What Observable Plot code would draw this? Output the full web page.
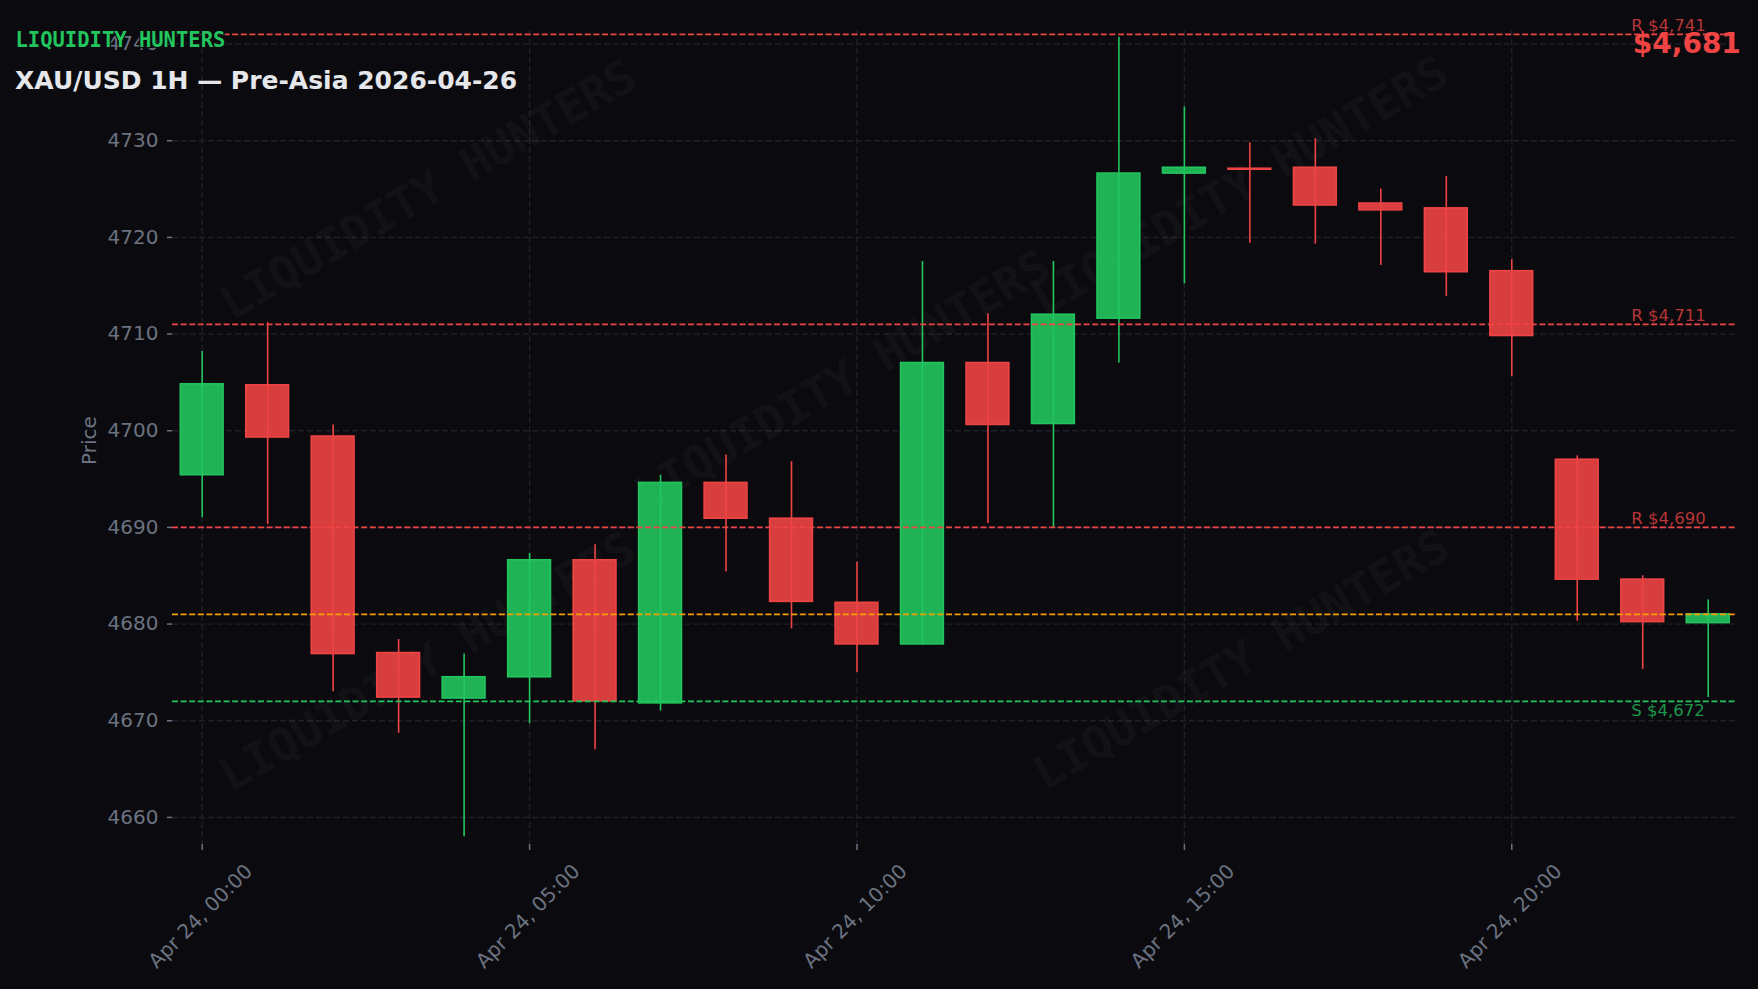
<!DOCTYPE html>
<html>
<head>
<meta charset="utf-8">
<script src="https://cdn.jsdelivr.net/npm/d3@7"></script>
<script src="https://cdn.jsdelivr.net/npm/@observablehq/plot@0.6"></script>
<style>
  html, body { margin: 0; padding: 0; background: #0b0b0f; }
  #chart { width: 1758px; height: 989px; }
</style>
</head>
<body>
<div id="chart"></div>
<script>
// ---- Text ----
const brand = "LIQUIDITY HUNTERS";
const title = "XAU/USD 1H — Pre-Asia 2026-04-26";
const yLabel = "Price";

// ---- Candles (1H, UTC) ----
const times = [
  "2026-04-24T00:00Z","2026-04-24T01:00Z","2026-04-24T02:00Z","2026-04-24T03:00Z",
  "2026-04-24T04:00Z","2026-04-24T05:00Z","2026-04-24T06:00Z","2026-04-24T07:00Z",
  "2026-04-24T08:00Z","2026-04-24T09:00Z","2026-04-24T10:00Z","2026-04-24T11:00Z",
  "2026-04-24T12:00Z","2026-04-24T13:00Z","2026-04-24T14:00Z","2026-04-24T15:00Z",
  "2026-04-24T16:00Z","2026-04-24T17:00Z","2026-04-24T18:00Z","2026-04-24T19:00Z",
  "2026-04-24T20:00Z","2026-04-24T21:00Z","2026-04-24T22:00Z","2026-04-24T23:00Z"
];
const opens  = [4695.4, 4704.7, 4699.4, 4677.0, 4672.3, 4674.5, 4686.6, 4671.8, 4694.6, 4690.9, 4682.2, 4677.9,
                4707.0, 4700.7, 4711.6, 4726.6, 4727.1, 4727.2, 4723.5, 4723.0, 4716.5, 4697.0, 4684.6, 4680.1];
const highs  = [4708.2, 4711.2, 4700.6, 4678.4, 4676.9, 4687.3, 4688.2, 4695.4, 4697.5, 4696.8, 4686.4, 4717.5,
                4712.1, 4717.5, 4740.7, 4733.5, 4729.8, 4730.2, 4725.0, 4726.3, 4717.7, 4697.4, 4685.0, 4682.5];
const lows   = [4691.0, 4690.3, 4673.0, 4668.7, 4658.0, 4669.7, 4667.0, 4671.0, 4685.4, 4679.5, 4675.0, 4677.8,
                4690.4, 4689.9, 4707.0, 4715.2, 4719.4, 4719.3, 4717.1, 4713.9, 4705.6, 4680.3, 4675.3, 4672.4];
const closes = [4704.8, 4699.3, 4676.9, 4672.4, 4674.5, 4686.6, 4672.0, 4694.6, 4690.9, 4682.3, 4677.9, 4707.0,
                4700.6, 4712.0, 4726.6, 4727.2, 4727.0, 4723.3, 4722.8, 4716.4, 4709.8, 4684.6, 4680.2, 4681.0];

// ---- Levels ----
const resistance = [4741, 4711, 4690];
const support = [4672];

// ---- Ticks ----
const yTicks = [4660, 4670, 4680, 4690, 4700, 4710, 4720, 4730, 4740];
const xTickTimes = ["2026-04-24T00:00Z","2026-04-24T05:00Z","2026-04-24T10:00Z","2026-04-24T15:00Z","2026-04-24T20:00Z"];

// ---- Build ----
const GREEN = "#22c55e", RED = "#ef4444", ORANGE = "#f59e0b", BG = "#0b0b0f", GRAY = "#6b7280", GRID = "#1f2029";
const MIN = 60000;
const candles = times.map((s, i) => ({t: new Date(s), o: opens[i], h: highs[i], l: lows[i], c: closes[i]}));
const xTicks = xTickTimes.map(s => new Date(s));
const last = closes[closes.length - 1];
const fmtTime = d3.utcFormat("%b %d, %H:%M");
const fmtNum = d3.format(",.0f");
const halfW = 19.6 * MIN;
const up = d => d.c >= d.o;
const down = d => d.c < d.o;

const watermark = (dx, dy) => Plot.text([brand], {
  text: d => d, frameAnchor: "top-left", dx, dy, rotate: -30,
  textAnchor: "middle", lineAnchor: "middle",
  fontFamily: "DejaVu Sans Mono", fontWeight: "bold", fontSize: 46,
  fill: "#ffffff", fillOpacity: 0.05
});

const chart = Plot.plot({
  width: 1758, height: 989,
  marginLeft: 172, marginRight: 23, marginTop: 30, marginBottom: 145,
  style: {background: BG, fontFamily: "DejaVu Sans", color: GRAY},
  x: {type: "utc", domain: [new Date(+candles[0].t - 27.2 * MIN), new Date(+candles[candles.length - 1].t + 25 * MIN)]},
  y: {domain: [4657.2, 4741.4]},
  marks: [
    Plot.gridY(yTicks, {stroke: GRID, strokeOpacity: 1, strokeWidth: 1.4, strokeDasharray: "6,3"}),
    Plot.gridX(xTicks, {stroke: GRID, strokeOpacity: 1, strokeWidth: 1.4, strokeDasharray: "6,3"}),
    watermark(256, 160),
    watermark(1068, 156),
    watermark(670, 350),
    watermark(255, 632),
    watermark(1069, 630),
    Plot.axisY({ticks: yTicks, tickFormat: d3.format("d"), tickSize: 5, tickPadding: 9, fontSize: 20, color: GRAY, label: null, strokeWidth: 1.5}),
    Plot.axisX({ticks: xTicks, tickSize: 6, tickFormat: () => "", color: GRAY, label: null, strokeWidth: 1.5}),
    // wicks
    Plot.ruleX(candles, {filter: up, x: "t", y1: "l", y2: "h", stroke: GREEN, strokeWidth: 1.6}),
    Plot.ruleX(candles, {filter: down, x: "t", y1: "l", y2: "h", stroke: RED, strokeWidth: 1.6}),
    // bodies
    Plot.rect(candles, {filter: up, x1: d => new Date(+d.t - halfW), x2: d => new Date(+d.t + halfW), y1: "o", y2: "c",
      fill: GREEN, fillOpacity: 0.9, stroke: GREEN, strokeWidth: 1.6}),
    Plot.rect(candles, {filter: down, x1: d => new Date(+d.t - halfW), x2: d => new Date(+d.t + halfW), y1: "o", y2: "c",
      fill: RED, fillOpacity: 0.9, stroke: RED, strokeWidth: 1.6}),
    // levels
    Plot.ruleY(resistance, {y: d => d, stroke: RED, strokeWidth: 1.8, strokeDasharray: "6,2.6"}),
    Plot.ruleY([last], {y: d => d, stroke: ORANGE, strokeWidth: 1.8, strokeDasharray: "6,2.6"}),
    Plot.ruleY(support, {y: d => d, stroke: GREEN, strokeWidth: 1.8, strokeDasharray: "6,2.6"}),
    Plot.text(resistance, {y: d => d, text: d => `R $${fmtNum(d)}`, frameAnchor: "right", dx: -104.3, dy: -3,
      textAnchor: "start", lineAnchor: "bottom", fontSize: 16.5, fill: RED, fillOpacity: 0.75}),
    Plot.text(support, {y: d => d, text: d => `S $${fmtNum(d)}`, frameAnchor: "right", dx: -104.3, dy: 3,
      textAnchor: "start", lineAnchor: "top", fontSize: 16.5, fill: GREEN, fillOpacity: 0.75}),
    // current price
    Plot.text([last], {text: d => `$${fmtNum(d)}`, frameAnchor: "top-right", dx: -102.7, dy: 2.4,
      textAnchor: "start", lineAnchor: "top", fontSize: 28, fontWeight: "bold", fill: RED}),
    // x tick labels
    Plot.text(xTicks, {x: d => d, text: d => fmtTime(d), frameAnchor: "bottom", rotate: -45, dx: 51.3, dy: 28,
      textAnchor: "end", lineAnchor: "bottom", fontSize: 20, fill: GRAY}),
    // y label
    Plot.text([yLabel], {text: d => d, frameAnchor: "left", rotate: -90, dx: -77, dy: 3,
      textAnchor: "middle", lineAnchor: "bottom", fontSize: 20, fill: GRAY}),
    // header
    Plot.text([brand], {text: d => d, frameAnchor: "top-left", dx: -157, dy: 16.7, textAnchor: "start", lineAnchor: "bottom",
      fontFamily: "DejaVu Sans Mono", fontWeight: "bold", fontSize: 20.5, fill: GREEN, stroke: BG, strokeWidth: 2.5}),
    Plot.text([title], {text: d => d, frameAnchor: "top-left", dx: -157.4, dy: 58.5, textAnchor: "start", lineAnchor: "bottom",
      fontWeight: "bold", fontSize: 25, fill: "#e6e7eb"})
  ]
});
document.getElementById("chart").appendChild(chart);
</script>
</body>
</html>
